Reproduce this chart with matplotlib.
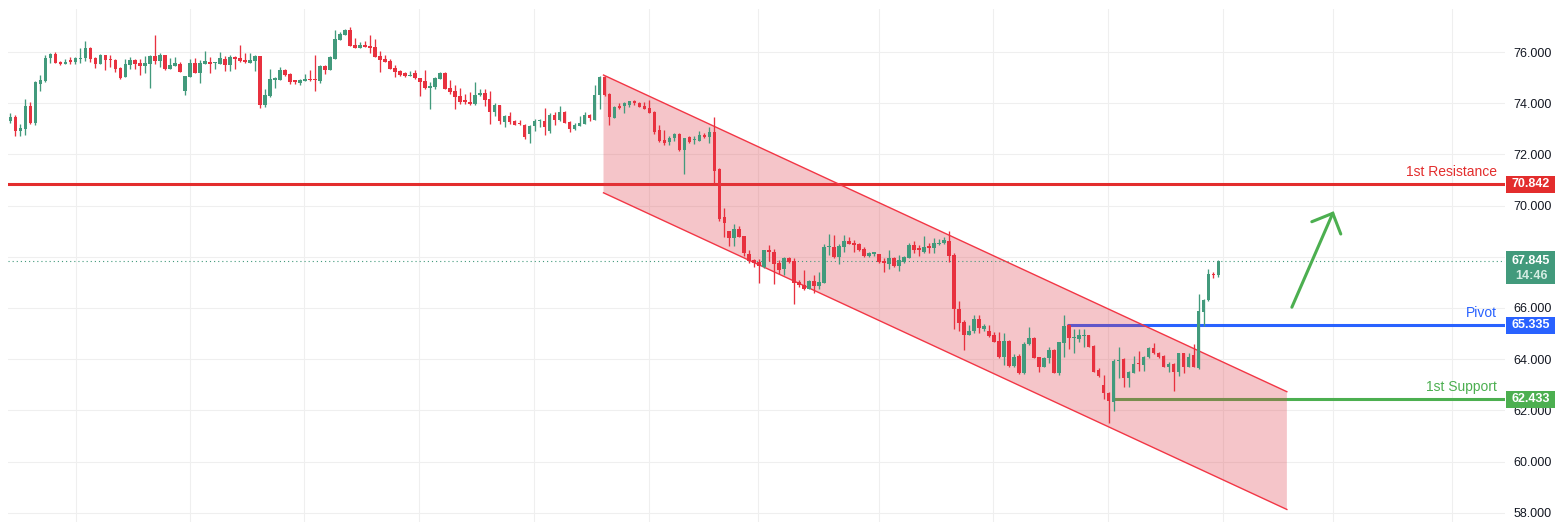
import numpy as np
import matplotlib.pyplot as plt
import matplotlib.transforms as mtransforms
from matplotlib.patches import Rectangle, Polygon

plt.rcParams['font.family'] = ['Liberation Sans', 'DejaVu Sans']

# OHLC candles (oldest first)
opens = [73.32, 73.45, 72.93, 72.99, 73.89, 73.23, 74.76, 74.87, 75.77, 75.92,
         75.61, 75.54, 75.69, 75.61, 75.73, 75.77, 76.16, 75.77, 75.54, 75.88,
         75.73, 75.69, 75.38, 75.04, 75.50, 75.69, 75.58, 75.47, 75.54, 75.84,
         75.66, 75.88, 75.35, 75.47, 75.54, 74.48, 75.04, 75.57, 75.19, 75.54,
         75.61, 75.57, 75.53, 75.73, 75.49, 75.80, 75.77, 75.69, 75.57, 75.65,
         75.84, 73.93, 74.29, 74.92, 74.92, 75.30, 75.14, 74.91, 74.80, 74.88,
         74.92, 74.91, 74.87, 75.45, 75.30, 75.73, 76.47, 76.66, 76.86, 76.27,
         76.17, 76.27, 76.23, 76.21, 75.84, 75.73, 75.65, 75.36, 75.26, 75.19,
         75.07, 75.17, 74.97, 74.87, 74.58, 74.64, 74.96, 75.19, 74.60, 74.48,
         74.29, 74.11, 74.06, 73.96, 74.31, 74.41, 74.15, 73.67, 73.93, 73.28,
         73.50, 73.32, 73.19, 73.15, 72.80, 73.11, 73.29, 73.30, 72.93, 73.52,
         73.35, 73.67, 73.28, 72.99, 73.12, 73.19, 73.54, 73.34, 74.32, 75.03,
         74.36, 73.43, 73.89, 73.89, 73.92, 74.09, 74.02, 73.89, 73.83, 73.67,
         72.95, 72.55, 72.47, 72.65, 72.80, 72.17, 72.69, 72.55, 72.53, 72.76,
         72.69, 72.89, 71.42, 69.54, 69.01, 68.75, 69.09, 68.81, 68.10, 67.87,
         67.81, 67.61, 68.26, 68.18, 67.74, 67.51, 67.96, 67.83, 67.03, 66.90,
         66.74, 67.06, 66.84, 66.99, 68.39, 68.37, 68.01, 68.40, 68.62, 68.55,
         68.50, 68.31, 68.05, 68.12, 68.11, 67.85, 67.72, 67.97, 67.66, 67.81,
         67.97, 68.46, 68.31, 68.20, 68.40, 68.33, 68.50, 68.53, 68.62, 68.07,
         65.96, 65.47, 64.95, 65.10, 65.57, 65.18, 65.12, 64.95, 64.73, 64.07,
         64.72, 63.73, 64.12, 63.45, 64.58, 64.82, 64.07, 63.71, 64.03, 64.36,
         63.47, 64.65, 65.34, 64.82, 64.79, 64.91, 64.95, 64.53, 63.58, 62.99,
         62.69, 62.34, 63.93, 64.01, 63.25, 63.47, 63.82, 63.77, 64.07, 64.45,
         64.26, 64.12, 63.71, 63.81, 63.51, 64.23, 63.71, 64.16, 63.67, 65.86,
         66.31, 67.33, 67.29]
highs = [73.60, 73.54, 73.17, 74.16, 74.05, 74.85, 75.10, 75.88, 75.97, 76.00,
         75.65, 75.71, 75.79, 75.82, 76.14, 76.43, 76.18, 75.80, 75.92, 75.90,
         75.88, 75.71, 75.40, 75.73, 75.80, 75.73, 75.73, 75.84, 75.88, 76.66,
         75.95, 75.90, 75.77, 75.80, 75.62, 75.08, 75.73, 75.77, 75.69, 76.04,
         75.80, 75.61, 76.00, 75.84, 75.88, 75.84, 76.27, 75.96, 75.96, 75.88,
         75.86, 74.55, 75.35, 75.04, 75.43, 75.35, 75.17, 74.91, 74.95, 75.14,
         75.30, 75.88, 75.49, 75.49, 75.84, 76.86, 76.78, 76.90, 76.98, 76.55,
         76.39, 76.44, 76.66, 76.51, 76.05, 75.88, 75.73, 75.49, 75.28, 75.21,
         75.26, 75.30, 74.98, 75.30, 74.84, 75.04, 75.21, 75.22, 74.91, 74.71,
         74.58, 74.35, 74.45, 74.83, 74.54, 74.54, 74.47, 73.99, 73.94, 73.53,
         73.67, 73.35, 73.35, 73.17, 73.15, 73.40, 73.40, 73.82, 73.61, 73.65,
         73.89, 73.69, 73.31, 73.21, 73.50, 73.67, 73.56, 74.71, 75.06, 75.08,
         74.38, 73.90, 73.99, 74.06, 74.10, 74.13, 74.03, 74.06, 74.13, 73.68,
         73.14, 72.95, 72.73, 72.85, 72.85, 72.64, 72.73, 72.73, 72.91, 72.85,
         73.06, 73.45, 71.45, 69.90, 69.02, 69.27, 69.22, 68.82, 68.26, 67.90,
         67.91, 68.27, 68.46, 68.32, 67.87, 67.98, 68.00, 67.94, 67.09, 67.49,
         67.10, 67.29, 67.40, 68.49, 68.89, 68.85, 68.50, 68.85, 68.76, 68.66,
         68.55, 68.37, 68.20, 68.15, 68.12, 67.94, 68.27, 67.98, 68.07, 68.03,
         68.55, 68.62, 68.46, 68.81, 68.55, 68.72, 68.68, 68.79, 69.01, 68.14,
         66.28, 65.53, 65.34, 65.73, 65.73, 65.38, 65.34, 65.05, 65.05, 65.01,
         64.74, 64.20, 64.20, 64.66, 65.25, 64.85, 64.10, 64.10, 64.46, 64.39,
         64.67, 65.73, 65.38, 65.17, 65.17, 65.17, 64.96, 64.56, 63.64, 63.38,
         62.73, 64.01, 64.46, 64.06, 63.55, 64.12, 64.32, 64.12, 64.46, 64.65,
         64.30, 64.17, 63.90, 63.84, 64.26, 64.26, 64.23, 64.58, 66.55, 66.35,
         67.52, 67.42, 67.88]
lows = [73.24, 72.73, 72.73, 72.76, 73.19, 73.15, 74.48, 74.83, 75.58, 75.58,
        75.50, 75.54, 75.54, 75.54, 75.58, 75.66, 75.61, 75.38, 75.54, 75.31,
        75.43, 75.23, 74.95, 75.02, 75.35, 75.35, 75.11, 75.19, 74.61, 75.54,
        75.43, 75.31, 75.35, 75.47, 75.23, 74.33, 75.04, 75.19, 74.80, 75.54,
        75.19, 75.35, 75.53, 75.26, 75.26, 75.35, 75.61, 75.57, 75.57, 75.26,
        73.83, 73.86, 74.26, 74.61, 74.92, 75.08, 74.76, 74.76, 74.72, 74.88,
        74.88, 74.49, 74.80, 75.14, 75.28, 75.73, 76.47, 76.66, 76.25, 76.17,
        76.14, 76.20, 75.97, 75.82, 75.23, 75.62, 75.33, 75.03, 75.08, 75.01,
        75.06, 74.96, 74.29, 74.57, 73.79, 74.54, 74.95, 74.57, 74.35, 73.79,
        73.98, 73.98, 73.94, 73.94, 74.30, 73.91, 73.17, 73.51, 73.19, 73.08,
        73.17, 73.13, 73.16, 72.60, 72.45, 72.93, 73.08, 72.76, 72.83, 73.15,
        73.31, 73.21, 72.89, 72.95, 73.11, 73.19, 73.32, 73.33, 73.79, 74.30,
        73.14, 73.42, 73.78, 73.60, 73.84, 73.93, 73.84, 73.78, 73.63, 72.80,
        72.50, 72.37, 72.36, 72.53, 72.14, 71.24, 72.44, 72.40, 72.53, 72.63,
        72.46, 70.88, 69.41, 68.77, 68.44, 68.44, 68.78, 68.04, 67.76, 67.59,
        66.97, 67.56, 67.85, 66.93, 67.33, 67.28, 67.75, 66.14, 66.83, 66.71,
        66.74, 66.58, 66.74, 66.98, 68.07, 67.94, 67.71, 68.20, 68.50, 68.20,
        68.24, 68.01, 67.98, 68.05, 67.77, 67.42, 67.51, 67.62, 67.46, 67.77,
        67.96, 68.16, 68.03, 68.14, 68.16, 68.16, 68.46, 68.50, 67.81, 65.18,
        65.12, 64.34, 64.93, 65.01, 65.01, 65.10, 64.88, 64.66, 64.06, 63.77,
        63.71, 63.71, 63.42, 63.44, 64.57, 64.03, 63.51, 63.68, 63.86, 63.46,
        63.37, 64.07, 64.39, 64.23, 64.69, 64.46, 64.46, 63.50, 63.32, 62.43,
        61.50, 61.99, 63.25, 62.90, 62.93, 63.45, 63.55, 63.55, 64.03, 64.20,
        64.03, 63.68, 63.50, 62.77, 63.36, 63.47, 63.68, 63.68, 63.62, 65.30,
        66.29, 67.16, 67.22]
closes = [73.45, 72.93, 73.03, 73.89, 73.23, 74.83, 74.91, 75.77, 75.92, 75.58,
          75.54, 75.61, 75.61, 75.77, 75.75, 76.16, 75.74, 75.54, 75.88, 75.69,
          75.69, 75.35, 75.00, 75.53, 75.69, 75.54, 75.47, 75.58, 75.84, 75.66,
          75.88, 75.34, 75.49, 75.58, 75.23, 75.06, 75.57, 75.19, 75.57, 75.65,
          75.52, 75.60, 75.77, 75.49, 75.80, 75.73, 75.65, 75.61, 75.69, 75.84,
          73.93, 74.32, 74.93, 74.95, 75.30, 75.10, 74.84, 74.84, 74.91, 74.96,
          74.90, 74.90, 75.45, 75.31, 75.80, 76.51, 76.72, 76.86, 76.25, 76.17,
          76.27, 76.21, 76.17, 75.82, 75.69, 75.62, 75.33, 75.22, 75.10, 75.08,
          75.10, 74.97, 74.84, 74.58, 74.67, 74.99, 75.19, 74.57, 74.45, 74.26,
          74.06, 74.06, 73.96, 74.32, 74.41, 74.13, 73.67, 73.93, 73.30, 73.50,
          73.28, 73.15, 73.17, 72.69, 73.11, 73.30, 73.32, 73.08, 73.52, 73.35,
          73.67, 73.23, 72.99, 73.15, 73.24, 73.54, 73.41, 74.34, 75.04, 74.34,
          73.47, 73.86, 73.83, 73.99, 74.09, 73.99, 73.84, 73.78, 73.63, 72.89,
          72.53, 72.45, 72.65, 72.79, 72.17, 72.63, 72.50, 72.59, 72.76, 72.69,
          72.89, 71.37, 69.48, 69.33, 68.75, 69.09, 68.79, 68.13, 67.84, 67.74,
          67.64, 68.26, 68.17, 67.71, 67.48, 67.96, 67.78, 66.97, 66.90, 66.74,
          67.06, 66.87, 67.02, 68.40, 68.41, 68.01, 68.42, 68.62, 68.50, 68.46,
          68.27, 68.05, 68.16, 68.14, 67.81, 67.75, 67.97, 67.64, 67.88, 68.01,
          68.46, 68.27, 68.28, 68.40, 68.36, 68.55, 68.55, 68.66, 68.05, 65.95,
          65.43, 64.95, 65.10, 65.57, 65.21, 65.30, 64.91, 64.69, 64.08, 64.72,
          63.73, 64.07, 63.45, 64.59, 64.82, 64.06, 63.71, 64.03, 64.36, 63.47,
          64.66, 65.30, 64.82, 64.84, 64.95, 64.93, 64.49, 63.51, 63.34, 62.67,
          62.38, 63.93, 63.97, 63.25, 63.49, 63.81, 63.80, 64.10, 64.45, 64.23,
          64.10, 63.71, 63.81, 63.51, 64.23, 63.71, 64.07, 63.71, 65.88, 66.31,
          67.32, 67.29, 67.845]

price_ticks = [58, 60, 62, 64, 66, 68, 70, 72, 74, 76]
time_grid = [13.1, 36.0, 58.8, 81.8, 104.9, 127.9, 149.8, 174.0, 196.9,
             219.9, 242.9, 265.0, 288.8]

resistance = 70.842
pivot = 65.335
support = 62.433
last_price = 67.845
countdown = '14:46'

# descending channel drawing (bar index, price)
channel_x = [118.8, 255.7]
channel_upper = [75.10, 62.73]
channel_lower = [70.50, 58.13]

pivot_start = 211.7
support_start = 220.9

# hand-drawn arrow
arrow_shaft_x = [256.7, 264.9]
arrow_shaft_y = [66.03, 69.70]
arrow_head_x = [260.7, 264.9, 266.5]
arrow_head_y = [69.37, 69.70, 68.89]

UP = '#429A7C'
DOWN = '#E8313F'
RES_C = '#E32D2D'
PIV_C = '#2962FF'
SUP_C = '#4CAF50'
CHAN_C = '#F23645'
FILL_C = '#E0404C'

W, H = 1566, 522
fig = plt.figure(figsize=(W / 100, H / 100), dpi=100)
ax = fig.add_axes([8 / W, 0, (1505 - 8) / W, (H - 9) / H])
x_max = 299.4
ax.set_xlim(-0.5, x_max)
ax.set_ylim(57.64, 77.68)

# candles
o, h, l, c = map(np.array, (opens, highs, lows, closes))
x = np.arange(len(o))
cols = np.where(c >= o, UP, DOWN)
ax.vlines(x, l, h, colors=cols, linewidth=0.95, zorder=5)
ax.bar(x, np.maximum(np.abs(c - o), 0.05), bottom=np.minimum(o, c),
       width=0.72, color=cols, linewidth=0, zorder=6)

# levels
ax.axhline(resistance, color=RES_C, lw=2.2, zorder=2)
ax.plot([pivot_start, x_max], [pivot, pivot], color=PIV_C, lw=2.2, zorder=2,
        solid_capstyle='butt')
ax.plot([support_start, x_max], [support, support], color=SUP_C, lw=2.2,
        zorder=2, solid_capstyle='butt')
ax.axhline(last_price, color=UP, lw=0.8, linestyle=(0, (1, 2.7)), zorder=4)

# channel
poly = Polygon([(channel_x[0], channel_upper[0]), (channel_x[1], channel_upper[1]),
                (channel_x[1], channel_lower[1]), (channel_x[0], channel_lower[0])],
               closed=True, facecolor=FILL_C, alpha=0.3, edgecolor='none', zorder=3)
ax.add_patch(poly)
ax.plot(channel_x, channel_upper, color=CHAN_C, lw=1.0, zorder=3)
ax.plot(channel_x, channel_lower, color=CHAN_C, lw=1.0, zorder=3)

# arrow
ax.plot(arrow_shaft_x, arrow_shaft_y, color=SUP_C, lw=2.2,
        solid_capstyle='round', zorder=4)
ax.plot(arrow_head_x, arrow_head_y, color=SUP_C, lw=2.2,
        solid_capstyle='round', solid_joinstyle='miter', zorder=4)

# level labels
label_x = 297.8
for txt, lvl, col in [('1st Resistance', resistance, RES_C),
                      ('Pivot', pivot, PIV_C),
                      ('1st Support', support, SUP_C)]:
    ax.annotate(txt, xy=(label_x, lvl), xytext=(0, 3.5), textcoords='offset points',
                ha='right', va='bottom', color=col, fontsize=10, zorder=7)

# axes styling
for s in ax.spines.values():
    s.set_visible(False)
ax.set_xticks(time_grid)
ax.set_xticklabels([])
ax.tick_params(axis='x', length=0)
ax.yaxis.tick_right()
ax.set_yticks(price_ticks)
ax.set_yticklabels([f'{v:.3f}' for v in price_ticks])
ax.tick_params(axis='y', length=0, pad=5.8, labelsize=9, labelcolor='#131722')
ax.grid(True, color='#EFEFEF', lw=0.8)
ax.set_axisbelow(True)

# price tags on the scale
blend = mtransforms.blended_transform_factory(fig.transFigure, ax.transData)
half = 8.5 / 25.6


def price_tag(level, text, color):
    ax.add_patch(Rectangle((1506 / W, level - half), 49 / W, 2 * half,
                           transform=blend, facecolor=color, edgecolor='none',
                           clip_on=False, zorder=10))
    ax.text(1531 / W, level, text, transform=blend, color='white', fontsize=9,
            fontweight='bold', ha='center', va='center', clip_on=False, zorder=11)


price_tag(resistance, f'{resistance:.3f}', RES_C)
price_tag(pivot, f'{pivot:.3f}', PIV_C)
price_tag(support, f'{support:.3f}', SUP_C)

# current price tag with countdown
ax.add_patch(Rectangle((1506 / W, last_price - 23 / 25.6), 49 / W, 33 / 25.6,
                       transform=blend, facecolor=UP, edgecolor='none',
                       clip_on=False, zorder=10))
ax.text(1531 / W, last_price, f'{last_price:.3f}', transform=blend, color='white',
        fontsize=9, fontweight='bold', ha='center', va='center', clip_on=False,
        zorder=11)
ax.text(1531 / W, last_price - 15 / 25.6, countdown, transform=blend,
        color='#D4EDE3', fontsize=9, fontweight='bold', ha='center', va='center',
        clip_on=False, zorder=11)

fig.savefig('out.png', dpi=100)
